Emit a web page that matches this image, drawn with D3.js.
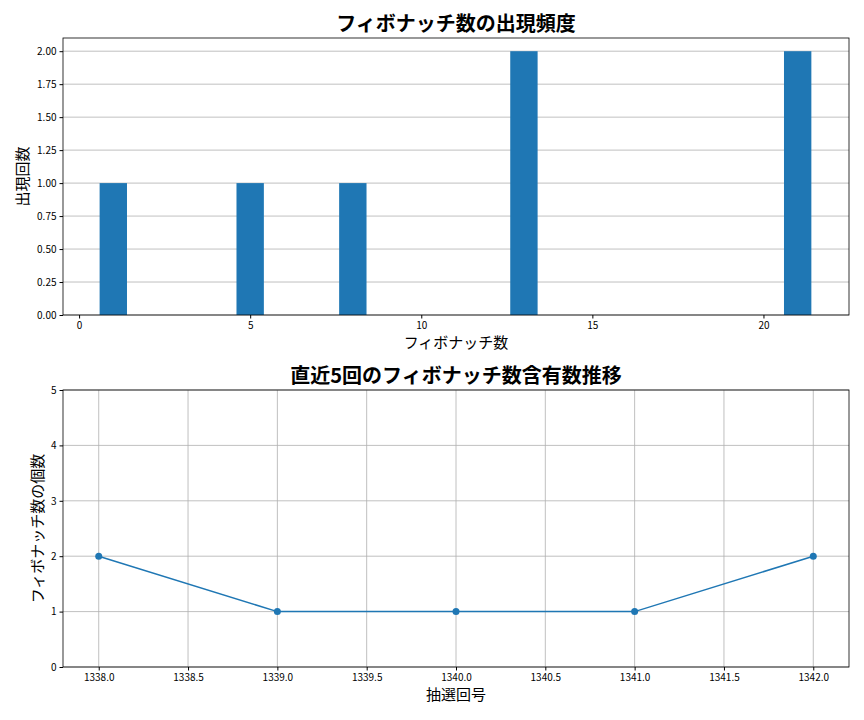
<!DOCTYPE html>
<html><head><meta charset="utf-8">
<script src="https://cdn.jsdelivr.net/npm/d3@7"></script>
<style>body{margin:0;background:#fff;font-family:"Noto Sans CJK JP",sans-serif}</style>
</head><body>
<svg id="chart" width="864" height="720"></svg>
<script>
// top: occurrence frequency of fibonacci numbers
var fibNumbers = [1, 5, 8, 13, 21];
var fibCounts = [1, 1, 1, 2, 2];
var yTicksTop = [0, 0.25, 0.5, 0.75, 1, 1.25, 1.5, 1.75, 2];
// bottom: count per draw
var drawNos = [1338, 1339, 1340, 1341, 1342];
var drawFibCounts = [2, 1, 1, 1, 2];

var blue = "#1f77b4";
var svg = d3.select("#chart");
var font = "Noto Sans CJK JP";

function frame(g, w, h) {
  g.append("rect").attr("width", w).attr("height", h)
    .attr("fill", "none").attr("stroke", "#000").attr("stroke-width", 0.8);
}
function styleAxis(a) {
  a.select(".domain").remove();
  a.selectAll("text").attr("font-size", 10).attr("font-family", font).attr("fill", "#000");
  a.selectAll("line").attr("stroke", "#000");
}

// ---- top chart
var L = 63, R = 849, T1 = 38, B1 = 315;
var x1 = d3.scaleLinear().domain([-0.47, 22.5]).range([L, R]);
var y1 = d3.scaleLinear().domain([0, 2.1]).range([B1, T1]);
var g1 = svg.append("g");
g1.selectAll(".gy").data(yTicksTop).enter().append("line")
  .attr("x1", L).attr("x2", R).attr("y1", function(d){return y1(d);}).attr("y2", function(d){return y1(d);})
  .attr("stroke", "#b0b0b0").attr("stroke-width", 0.8);
g1.selectAll(".bar").data(fibNumbers).enter().append("rect")
  .attr("x", function(d){return x1(d - 0.4);})
  .attr("width", x1(0.8) - x1(0))
  .attr("y", function(d, i){return y1(fibCounts[i]);})
  .attr("height", function(d, i){return B1 - y1(fibCounts[i]);})
  .attr("fill", blue);
var ax1 = g1.append("g").attr("transform", "translate(0," + B1 + ")")
  .call(d3.axisBottom(x1).tickValues([0, 5, 10, 15, 20]).tickSize(3.5).tickPadding(3));
styleAxis(ax1);
var ay1 = g1.append("g").attr("transform", "translate(" + L + ",0)")
  .call(d3.axisLeft(y1).tickValues(yTicksTop).tickFormat(d3.format(".2f")).tickSize(3.5).tickPadding(3));
styleAxis(ay1);
frame(g1.append("g").attr("transform", "translate(" + L + "," + T1 + ")"), R - L, B1 - T1);
svg.append("text").attr("x", (L + R) / 2).attr("y", 31).attr("text-anchor", "middle")
  .attr("font-size", 20).attr("font-weight", "bold").attr("font-family", font).text("フィボナッチ数の出現頻度");
svg.append("text").attr("x", (L + R) / 2).attr("y", 348).attr("text-anchor", "middle")
  .attr("font-size", 15).attr("font-family", font).text("フィボナッチ数");
svg.append("text").attr("transform", "translate(28," + (T1 + B1) / 2 + ") rotate(-90)").attr("text-anchor", "middle")
  .attr("font-size", 15).attr("font-family", font).text("出現回数");

// ---- bottom chart
var T2 = 390, B2 = 667;
var x2 = d3.scaleLinear().domain([1337.8, 1342.2]).range([L, R]);
var y2 = d3.scaleLinear().domain([0, 5]).range([B2, T2]);
var g2 = svg.append("g");
var xt2 = d3.range(1338, 1342.01, 0.5);
g2.selectAll(".gx").data(xt2).enter().append("line")
  .attr("y1", T2).attr("y2", B2).attr("x1", function(d){return x2(d);}).attr("x2", function(d){return x2(d);})
  .attr("stroke", "#b0b0b0").attr("stroke-width", 0.8);
g2.selectAll(".gy").data(d3.range(0, 6)).enter().append("line")
  .attr("x1", L).attr("x2", R).attr("y1", function(d){return y2(d);}).attr("y2", function(d){return y2(d);})
  .attr("stroke", "#b0b0b0").attr("stroke-width", 0.8);
var line = d3.line().x(function(d, i){return x2(drawNos[i]);}).y(function(d){return y2(d);});
g2.append("path").datum(drawFibCounts).attr("d", line).attr("fill", "none").attr("stroke", blue).attr("stroke-width", 1.5);
g2.selectAll(".pt").data(drawFibCounts).enter().append("circle")
  .attr("cx", function(d, i){return x2(drawNos[i]);}).attr("cy", function(d){return y2(d);})
  .attr("r", 3.5).attr("fill", blue);
var ax2 = g2.append("g").attr("transform", "translate(0," + B2 + ")")
  .call(d3.axisBottom(x2).tickValues(xt2).tickFormat(d3.format(".1f")).tickSize(3.5).tickPadding(3));
styleAxis(ax2);
var ay2 = g2.append("g").attr("transform", "translate(" + L + ",0)")
  .call(d3.axisLeft(y2).tickValues(d3.range(0, 6)).tickFormat(d3.format("d")).tickSize(3.5).tickPadding(3));
styleAxis(ay2);
frame(g2.append("g").attr("transform", "translate(" + L + "," + T2 + ")"), R - L, B2 - T2);
svg.append("text").attr("x", (L + R) / 2).attr("y", 383).attr("text-anchor", "middle")
  .attr("font-size", 20).attr("font-weight", "bold").attr("font-family", font).text("直近5回のフィボナッチ数含有数推移");
svg.append("text").attr("x", (L + R) / 2).attr("y", 700).attr("text-anchor", "middle")
  .attr("font-size", 15).attr("font-family", font).text("抽選回号");
svg.append("text").attr("transform", "translate(43," + (T2 + B2) / 2 + ") rotate(-90)").attr("text-anchor", "middle")
  .attr("font-size", 15).attr("font-family", font).text("フィボナッチ数の個数");
</script>
</body></html>
